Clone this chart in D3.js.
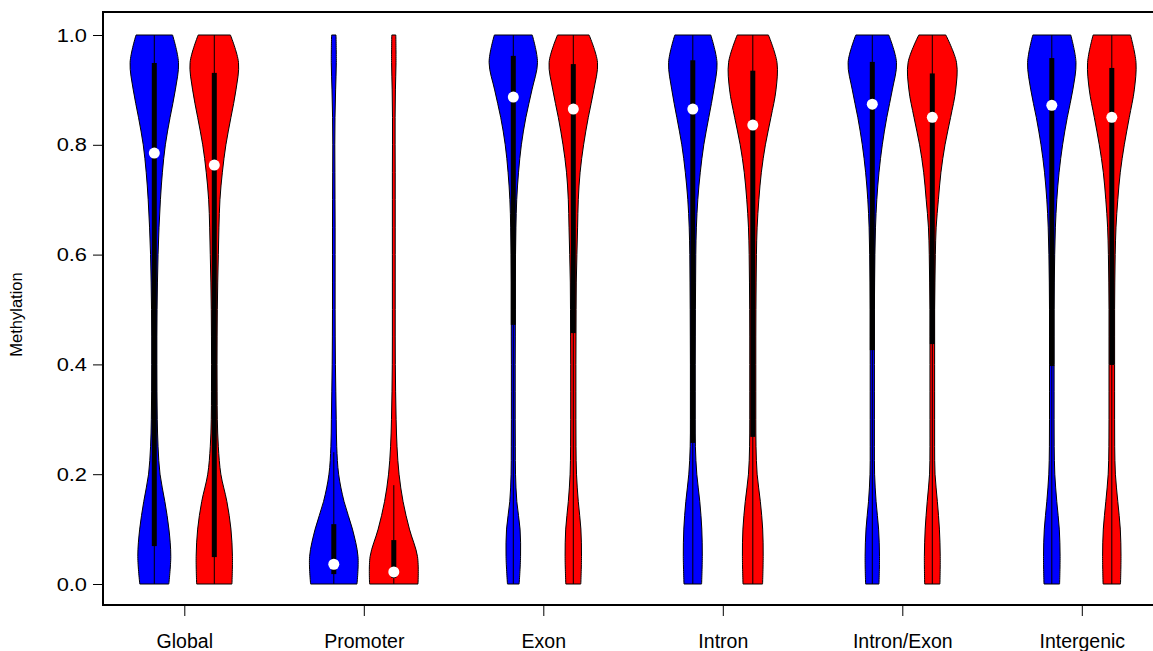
<!DOCTYPE html>
<html>
<head>
<meta charset="utf-8">
<script src="https://cdn.jsdelivr.net/npm/d3@7"></script>
<style>
  html, body { margin: 0; padding: 0; background: #fff; }
  svg { display: block; font-family: "Liberation Sans", Arial, Helvetica, sans-serif; }
</style>
</head>
<body>
<svg id="chart" width="1153" height="651"></svg>
<script>
// Genomic regions shown along the x axis
const categories = ["Global", "Promoter", "Exon", "Intron", "Intron/Exon", "Intergenic"];
const seriesNames = ["blue", "red"];
const seriesColors = ["#0000FF", "#FF0000"];

// Methylation levels at which the kernel densities were evaluated
const densityGrid = [0, 0.05, 0.10, 0.15, 0.20, 0.25, 0.30, 0.35, 0.40, 0.45, 0.50,
                     0.55, 0.60, 0.65, 0.70, 0.75, 0.80, 0.85, 0.90, 0.95, 1.00];

// Density estimates (relative units) per region, first series
const densityBlue = [
  [14.7, 16.7, 14.8, 10.7, 5.8, 3.8, 3.0, 2.7, 2.6, 2.6, 2.8, 3.2, 3.8, 4.8, 6.2, 8.2, 11.2, 16.0, 21.3, 24.5, 18.5],
  [23.0, 24.0, 18.5, 10.2, 4.8, 2.9, 2.4, 2.0, 1.6, 1.4, 1.3, 1.3, 1.3, 1.3, 1.2, 1.1, 1.0, 1.2, 1.8, 2.5, 2.2],
  [5.8, 7.2, 6.7, 3.5, 2.2, 2.0, 1.9, 1.9, 1.9, 2.0, 2.0, 2.0, 2.2, 2.6, 3.4, 5.2, 8.0, 12.5, 18.5, 24.0, 18.8],
  [8.8, 9.5, 9.0, 7.0, 4.0, 2.6, 2.4, 2.4, 2.4, 2.5, 2.6, 2.8, 3.0, 3.6, 5.0, 7.5, 11.0, 16.0, 21.0, 24.2, 18.0],
  [6.7, 7.2, 6.3, 3.8, 2.3, 2.1, 2.1, 2.1, 2.1, 2.1, 2.1, 2.3, 2.6, 3.2, 4.5, 6.7, 10.0, 14.5, 20.0, 24.2, 16.5],
  [7.8, 8.3, 7.5, 5.0, 3.0, 2.4, 2.3, 2.3, 2.3, 2.3, 2.3, 2.5, 2.9, 3.6, 5.0, 7.3, 10.8, 15.5, 21.0, 24.2, 19.0]
];
// Density estimates (relative units) per region, second series
const densityRed = [
  [17.5, 18.0, 16.5, 12.5, 6.5, 4.0, 3.0, 2.8, 2.7, 2.8, 3.0, 3.4, 4.0, 4.6, 5.6, 8.0, 11.5, 16.5, 21.5, 24.0, 16.0],
  [24.0, 23.5, 15.5, 9.2, 5.2, 3.2, 2.3, 1.8, 1.5, 1.4, 1.4, 1.4, 1.4, 1.4, 1.4, 1.4, 1.3, 1.3, 1.6, 2.2, 2.0],
  [7.5, 8.2, 7.6, 5.0, 3.2, 2.7, 2.6, 2.6, 2.6, 2.7, 2.8, 3.0, 3.6, 4.3, 5.0, 6.8, 10.3, 15.0, 20.5, 24.2, 15.8],
  [9.7, 10.3, 9.8, 7.5, 4.3, 3.2, 3.0, 3.0, 3.0, 3.0, 3.1, 3.3, 3.6, 4.3, 6.0, 8.5, 12.5, 18.0, 23.0, 24.0, 15.5],
  [7.5, 7.8, 7.0, 5.0, 2.7, 2.3, 2.3, 2.3, 2.3, 2.3, 2.3, 2.6, 3.0, 3.8, 6.0, 8.5, 12.5, 18.0, 23.0, 23.8, 13.3],
  [8.7, 9.2, 8.5, 6.0, 3.6, 2.9, 2.8, 2.8, 2.8, 2.8, 2.8, 3.0, 3.4, 4.2, 6.0, 8.5, 12.5, 17.5, 22.5, 24.2, 18.7]
];

// Box summaries per region
const medianBlue = [0.785, 0.036, 0.887, 0.865, 0.874, 0.872];
const q1Blue     = [0.069, 0.018, 0.472, 0.257, 0.426, 0.397];
const q3Blue     = [0.949, 0.109, 0.962, 0.954, 0.951, 0.958];
const whiskerLoBlue = [0, 0, 0, 0, 0, 0];
const whiskerHiBlue = [1, 0.24, 1, 1, 1, 1];

const medianRed = [0.763, 0.022, 0.865, 0.836, 0.850, 0.850];
const q1Red     = [0.049, 0.011, 0.457, 0.268, 0.437, 0.399];
const q3Red     = [0.931, 0.080, 0.947, 0.935, 0.930, 0.940];
const whiskerLoRed = [0, 0, 0, 0, 0, 0];
const whiskerHiRed = [1, 0.18, 1, 1, 1, 1];

const yTicks = [0, 0.2, 0.4, 0.6, 0.8, 1.0];
const yLabel = "Methylation";

const series = [
  { density: densityBlue, median: medianBlue, q1: q1Blue, q3: q3Blue, lo: whiskerLoBlue, hi: whiskerHiBlue },
  { density: densityRed,  median: medianRed,  q1: q1Red,  q3: q3Red,  lo: whiskerLoRed,  hi: whiskerHiRed }
];

const svg = d3.select("#chart");

const frame = { left: 103, top: 12, bottom: 605, right: 1170 };

const x = d3.scalePoint().domain(categories).range([184.3, 1081.8]);
const xOffset = d3.scalePoint().domain(seriesNames).range([-30, 30]);
const y = d3.scaleLinear().domain([0, 1]).range([584, 35]);

const maxHalfWidth = 24.2;
const boxWidth = 5;

const plot = svg.append("g");

series.forEach((s, si) => {
  categories.forEach((cat, ci) => {
    const cx = x(cat) + xOffset(seriesNames[si]);
    const dens = s.density[ci];
    const w = d3.scaleLinear().domain([0, d3.max(dens)]).range([0, maxHalfWidth]);
    const pts = densityGrid.map((v, k) => ({ v, d: dens[k] }));

    const area = d3.area()
      .y(d => y(d.v))
      .x0(d => cx - w(d.d))
      .x1(d => cx + w(d.d))
      .curve(d3.curveCatmullRom.alpha(0.5));

    const g = plot.append("g");
    g.append("path")
      .attr("d", area(pts))
      .attr("fill", seriesColors[si])
      .attr("stroke", "#000")
      .attr("stroke-width", 1);

    // whisker
    g.append("line")
      .attr("x1", cx).attr("x2", cx)
      .attr("y1", y(s.lo[ci])).attr("y2", y(s.hi[ci]))
      .attr("stroke", "#000").attr("stroke-width", 1);

    // interquartile box
    g.append("rect")
      .attr("x", cx - boxWidth / 2)
      .attr("width", boxWidth)
      .attr("y", y(s.q3[ci]))
      .attr("height", y(s.q1[ci]) - y(s.q3[ci]))
      .attr("fill", "#000");

    // median
    g.append("circle")
      .attr("cx", cx).attr("cy", y(s.median[ci]))
      .attr("r", 5.5)
      .attr("fill", "#fff");
  });
});

// plot frame
svg.append("path")
  .attr("d", `M${frame.right},${frame.top}H${frame.left}V${frame.bottom}H${frame.right}`)
  .attr("fill", "none")
  .attr("stroke", "#000")
  .attr("stroke-width", 2);

// y axis (tick labels are drawn slightly widened)
const yLabelStretch = 1.15;
const yAxis = svg.append("g").attr("transform", `translate(${frame.left - 1},0)`)
  .call(d3.axisLeft(y).tickValues(yTicks).tickFormat(d3.format(".1f")).tickSize(9).tickPadding(6));
yAxis.select(".domain").remove();
yAxis.selectAll(".tick line").attr("stroke", "#000").attr("stroke-width", 1);
yAxis.selectAll(".tick text")
  .attr("font-family", "Liberation Sans, Arial, sans-serif")
  .attr("font-size", 19)
  .attr("fill", "#000")
  .attr("x", -15 / yLabelStretch)
  .attr("transform", `scale(${yLabelStretch},1)`);

// x axis
const xAxis = svg.append("g").attr("transform", `translate(0,${frame.bottom + 1})`)
  .call(d3.axisBottom(x).tickSize(10).tickPadding(18));
xAxis.select(".domain").remove();
xAxis.selectAll(".tick line").attr("stroke", "#000").attr("stroke-width", 1);
xAxis.selectAll(".tick text")
  .attr("font-family", "Liberation Sans, Arial, sans-serif")
  .attr("font-size", 19.5)
  .attr("fill", "#000");

// y axis title
svg.append("text")
  .attr("transform", `translate(22,${(y(0) + y(1)) / 2 + 5}) rotate(-90)`)
  .attr("text-anchor", "middle")
  .attr("font-size", 16.5)
  .attr("fill", "#000")
  .text(yLabel);
</script>
</body>
</html>
